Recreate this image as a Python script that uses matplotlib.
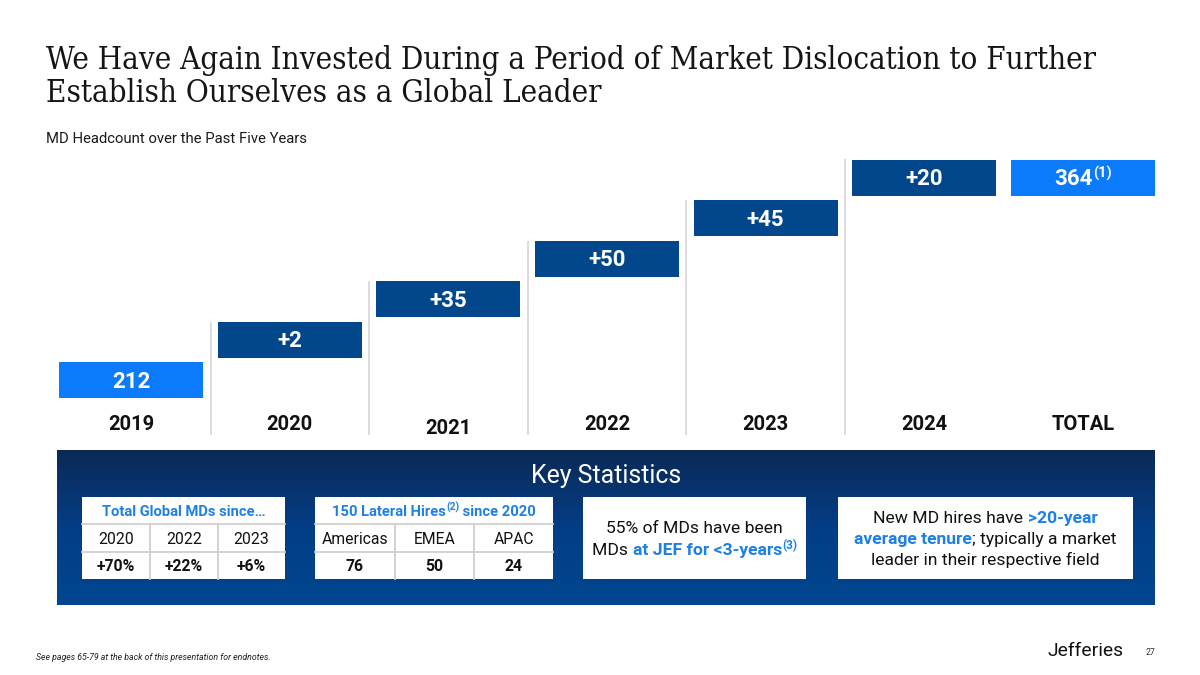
import numpy as np
import matplotlib
matplotlib.use("Agg")
import matplotlib.pyplot as plt
from matplotlib.patches import Rectangle
from matplotlib.colors import LinearSegmentedColormap
from matplotlib import font_manager

# ---------------- data ----------------
categories = ["2019", "2020", "2021", "2022", "2023", "2024", "TOTAL"]
values = [212, 2, 35, 50, 45, 20, 364]
bar_kind = ["total", "delta", "delta", "delta", "delta", "delta", "total"]
total_note = "(1)"

title_lines = ["We Have Again Invested During a Period of Market Dislocation to Further",
               "Establish Ourselves as a Global Leader"]
subtitle = "MD Headcount over the Past Five Years"
panel_title = "Key Statistics"

t1_header = "Total Global MDs since\u2026"
t1_cols = ["2020", "2022", "2023"]
t1_vals = ["+70%", "+22%", "+6%"]

t2_header_a = "150 Lateral Hires"
t2_header_note = "(2)"
t2_header_b = " since 2020"
t2_cols = ["Americas", "EMEA", "APAC"]
t2_vals = [76, 50, 24]

footnote = "See pages 65-79 at the back of this presentation for endnotes."
logo = "Jefferies"
page_no = "27"

# ---------------- style ----------------
DARK = "#02468B"
LIGHT = "#0B7BFC"
BLUE_TXT = "#1E80E6"
GRID = "#D0D0D0"
SEP = "#DCDCDC"
FONT = "Roboto"

has_cond = any(f.name == "DejaVu Serif" and str(f.stretch) in ("condensed", "semi-condensed")
               for f in font_manager.fontManager.ttflist)
TITLE_STRETCH = "condensed" if has_cond else "normal"

fig = plt.figure(figsize=(12, 6.75), dpi=100)
fig.patch.set_facecolor("white")

ov = fig.add_axes([0, 0, 1, 1])
ov.set_xlim(0, 1200)
ov.set_ylim(675, 0)
ov.axis("off")

fig.canvas.draw()
renderer = fig.canvas.get_renderer()


def text_w(s, **kw):
    t1 = ov.text(0, 0, "|" + s + "|", **kw)
    t2 = ov.text(0, 0, "||", **kw)
    w = t1.get_window_extent(renderer).width - t2.get_window_extent(renderer).width
    t1.remove(); t2.remove()
    return w


def fit_size(s, target, base=12, **kw):
    w = text_w(s, fontsize=base, **kw)
    return base * target / w


def rich_line(xc, yb, pieces):
    widths = [text_w(p[0], **p[1]) for p in pieces]
    x = xc - sum(widths) / 2
    for (s, props, dy), w in zip(pieces, widths):
        ov.text(x, yb - dy, s, ha="left", va="baseline", **props)
        x += w


def cap_base(cy, size_pt):
    return cy + 0.711 * size_pt * 100 / 72 / 2


# ---------------- title ----------------
tkw = dict(family="DejaVu Serif", color="#151515", fontstretch=TITLE_STRETCH)
ts_w = fit_size(title_lines[0], 1050, base=22, **tkw)
ts_h = 21.7 / 0.729 * 72 / 100
ts = ts_w if has_cond else 0.5 * (ts_w + ts_h)
ov.text(46, 68.5, title_lines[0], fontsize=ts, ha="left", va="baseline", **tkw)
ov.text(46, 102, title_lines[1], fontsize=ts, ha="left", va="baseline", **tkw)

skw = dict(family=FONT, color="#1A1A1A")
ss = fit_size(subtitle, 262, **skw)
ov.text(46, 143, subtitle, fontsize=ss, ha="left", va="baseline", **skw)

# ---------------- waterfall chart ----------------
n = len(categories)
x = np.arange(n)
level = np.minimum(np.arange(n), n - 2)       # step position of each floating bar
step_px = 40.5
bar_h = 36 / step_px
ax_top, ax_bot = 150, 440
base_px = 398
lo = -(ax_bot - base_px) / step_px
hi = lo + (ax_bot - ax_top) / step_px
ax = fig.add_axes([52 / 1200, (675 - ax_bot) / 675, 1110 / 1200, (ax_bot - ax_top) / 675])
ax.set_xlim(-0.5, n - 0.5)
ax.set_ylim(lo, hi)
ax.axis("off")
ax.patch.set_alpha(0)

colors = [LIGHT if k == "total" else DARK for k in bar_kind]
ax.bar(x, bar_h, bottom=level, width=144 / 158.57, color=colors, edgecolor="none")

label_bottom = -(435 - base_px) / step_px
for i in range(n - 2):
    ax.plot([i + 0.5, i + 0.5], [label_bottom, level[i + 1] + bar_h], color=SEP, lw=1.4,
            solid_capstyle="butt", zorder=0)

lab_size = 16
digit_h = 0.711 * lab_size * 100 / 72 / step_px
for i in range(n):
    lab = str(values[i]) if bar_kind[i] == "total" else f"+{values[i]}"
    yb = level[i] + bar_h / 2 - digit_h / 2
    if i == n - 1:
        wmain = text_w(lab, fontsize=lab_size, fontweight="bold", family=FONT)
        wnote = text_w(total_note, fontsize=10.5, fontweight="bold", family=FONT)
        x0 = x[i] - (wmain + wnote) / 2 / 158.57
        t = ax.text(x0, yb, lab, ha="left", va="baseline", color="white",
                    fontsize=lab_size, fontweight="bold", family=FONT)
        ax.annotate(total_note, xy=(1, 1), xycoords=t, xytext=(0.5, 1.5),
                    textcoords="offset points", ha="left", va="top", color="white",
                    fontsize=10.5, fontweight="bold", family=FONT)
    else:
        ax.text(x[i], yb, lab, ha="center", va="baseline", color="white",
                fontsize=lab_size, fontweight="bold", family=FONT)

cat_size = 14.5
for i, c in enumerate(categories):
    cy = 422.5 + (4.5 if c == "2021" else 0)
    yb = cap_base(cy, cat_size)
    ax.text(x[i], -(yb - base_px) / step_px, c, ha="center", va="baseline",
            color="#111111", fontsize=cat_size, fontweight="bold", family=FONT)

# ---------------- key statistics panel ----------------
cmap = LinearSegmentedColormap.from_list("panel", ["#0B2956", "#033E86", "#00468F"])
grad = np.linspace(0, 1, 256).reshape(-1, 1)
ov.imshow(grad, extent=(57, 1155, 605, 450), aspect="auto", cmap=cmap, zorder=1,
          interpolation="bilinear")

ks = fit_size(panel_title, 150, family=FONT)
ov.text(606, cap_base(474, ks), panel_title, ha="center", va="baseline", color="white",
        fontsize=ks, family=FONT, zorder=3)

rows_y = [497, 524, 552, 579]
cell_size = 11.3
head_size = 10.6


def draw_table(col_edges, head_pieces, cols, vals):
    x0, x1 = col_edges[0], col_edges[-1]
    ov.add_patch(Rectangle((x0, rows_y[0]), x1 - x0, rows_y[-1] - rows_y[0],
                           facecolor="white", edgecolor="none", zorder=2))
    for yy in rows_y[1:3]:
        ov.plot([x0, x1], [yy, yy], color=GRID, lw=1.3, zorder=3)
    for xx in col_edges[1:-1]:
        ov.plot([xx, xx], [rows_y[1], rows_y[3]], color=GRID, lw=1.3, zorder=3)
    rich_line((x0 + x1) / 2, cap_base((rows_y[0] + rows_y[1]) / 2, head_size), head_pieces)
    for j in range(len(cols)):
        xc = (col_edges[j] + col_edges[j + 1]) / 2
        ov.text(xc, cap_base((rows_y[1] + rows_y[2]) / 2, cell_size), cols[j], ha="center",
                va="baseline", fontsize=cell_size, family=FONT, color="#111111", zorder=4)
        ov.text(xc, cap_base((rows_y[2] + rows_y[3]) / 2, cell_size), str(vals[j]),
                ha="center", va="baseline", fontsize=cell_size, family=FONT,
                fontweight="bold", color="#111111", zorder=4)


hb = dict(fontsize=head_size, family=FONT, fontweight="bold", color=BLUE_TXT, zorder=4)
hn = dict(fontsize=7.5, family=FONT, fontweight="bold", color=BLUE_TXT, zorder=4)
draw_table([82, 150, 218, 285], [(t1_header, hb, 0)], t1_cols, t1_vals)
draw_table([315, 394.5, 474, 553],
           [(t2_header_a, hb, 0), (t2_header_note, hn, 5), (t2_header_b, hb, 0)],
           t2_cols, t2_vals)

box_size = 12.6
for bx0, bx1 in [(583, 806), (838, 1133)]:
    ov.add_patch(Rectangle((bx0, 497), bx1 - bx0, 82, facecolor="white",
                           edgecolor="none", zorder=2))
reg = dict(fontsize=box_size, family=FONT, color="#111111", zorder=4)
blu = dict(fontsize=box_size, family=FONT, fontweight="bold", color=BLUE_TXT, zorder=4)
sup = dict(fontsize=8.5, family=FONT, fontweight="bold", color=BLUE_TXT, zorder=4)

bx3 = (583 + 806) / 2
rich_line(bx3, cap_base(527, box_size), [("55% of MDs have been", reg, 0)])
rich_line(bx3, cap_base(549, box_size), [("MDs ", reg, 0), ("at JEF for <3-years", blu, 0),
                                         ("(3)", sup, 6)])
bx4 = (838 + 1133) / 2
rich_line(bx4, cap_base(517, box_size), [("New MD hires have ", reg, 0), (">20-year", blu, 0)])
rich_line(bx4, cap_base(538, box_size), [("average tenure", blu, 0),
                                         ("; typically a market", reg, 0)])
rich_line(bx4, cap_base(559, box_size), [("leader in their respective field", reg, 0)])

# ---------------- footer ----------------
fkw = dict(family=FONT, style="italic", color="#222222")
fs = fit_size(footnote, 235, **fkw)
ov.text(36, 660.5, footnote, fontsize=fs, ha="left", va="baseline", **fkw)

lkw = dict(family=FONT, color="#111111")
ls = fit_size(logo, 76, **lkw)
ov.text(1047, 656.5, logo, fontsize=ls, ha="left", va="baseline", **lkw)
ov.text(1146, 655, page_no, fontsize=6.2, family=FONT, color="#333333",
        ha="left", va="baseline")

ov.set_xlim(0, 1200)
ov.set_ylim(675, 0)

fig.savefig("out.png", dpi=100, facecolor="white")
